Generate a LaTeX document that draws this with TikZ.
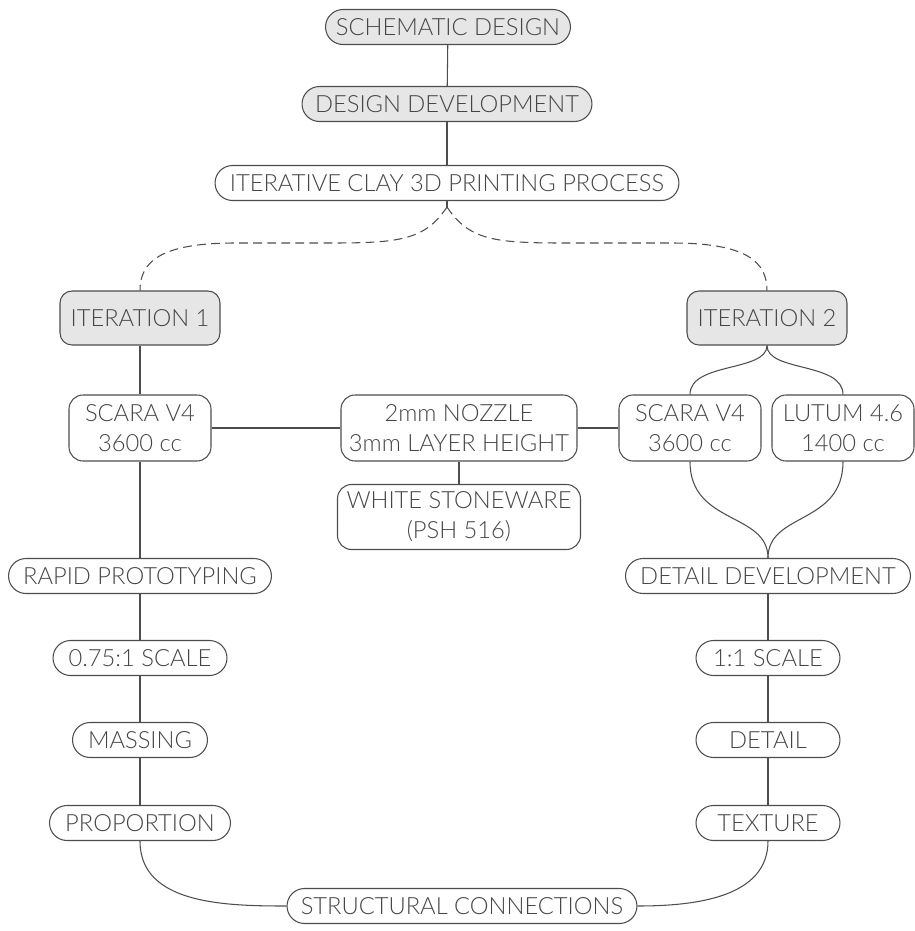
\documentclass[tikz,border=0pt]{standalone}
\usepackage{fontspec}
\setmainfont{Lato Light}
\usepackage{xcolor}
\definecolor{lineGray}{HTML}{4D4D4D}
\definecolor{textGray}{HTML}{454545}
\definecolor{fillGray}{HTML}{E6E6E6}
\tikzset{
  gray_pill/.style={rectangle, rounded corners=0.35cm, draw=lineGray, line width=0.6pt, fill=fillGray, text=textGray, minimum height=0.7cm, inner sep=0pt, font=\fontsize{13.5}{17}\selectfont},
  white_pill/.style={gray_pill, fill=white},
  gray_box/.style={gray_pill, rounded corners=0.24cm, minimum height=1.08cm},
  white_box/.style={gray_pill, fill=white, rounded corners=0.28cm, minimum height=1.32cm, align=center},
  edge/.style={draw=lineGray, line width=0.6pt},
  dashed_edge/.style={edge, dash pattern=on 5pt off 3pt}
}
\begin{document}
\begin{tikzpicture}[x=0.02cm, y=-0.02cm]
        \useasboundingbox (0, 0) rectangle (915, 931);
        \node[gray_pill, minimum width=4.9cm] (1) at (448, 27) {SCHEMATIC DESIGN};
        \node[gray_pill, minimum width=5.8cm] (2) at (447, 104) {DESIGN DEVELOPMENT};
        \node[white_pill, minimum width=9.28cm] (3) at (447, 183) {ITERATIVE CLAY 3D PRINTING PROCESS};
        \coordinate (20) at (447, 207);
        \node[gray_box, minimum width=3.2cm] (4) at (140, 318) {ITERATION 1};
        \node[gray_box, minimum width=3.2cm] (5) at (767, 318) {ITERATION 2};
        \node[white_box, minimum width=2.84cm] (6) at (140, 428) {SCARA V4\\3600 cc};
        \node[white_box, minimum width=4.72cm] (7) at (459, 428) {2mm NOZZLE\\3mm LAYER HEIGHT};
        \node[white_box, minimum width=4.86cm, minimum height=1.3cm] (8) at (459, 517) {WHITE STONEWARE\\(PSH 516)};
        \node[white_box, minimum width=2.84cm] (9) at (690, 428) {SCARA V4\\3600 cc};
        \node[white_box, minimum width=2.84cm] (10) at (843, 428) {LUTUM 4.6\\1400 cc};
        \node[white_pill, minimum width=5.7cm] (11) at (768, 576) {DETAIL DEVELOPMENT};
        \node[white_pill, minimum width=5.26cm] (12) at (140, 576) {RAPID PROTOTYPING};
        \node[white_pill, minimum width=3.48cm] (13) at (140, 658) {0.75:1 SCALE};
        \node[white_pill, minimum width=2.7cm] (14) at (140, 740) {MASSING};
        \node[white_pill, minimum width=3.62cm] (15) at (140, 823) {PROPORTION};
        \node[white_pill, minimum width=2.88cm] (16) at (768, 658) {1:1 SCALE};
        \node[white_pill, minimum width=2.88cm] (17) at (768, 740) {DETAIL};
        \node[white_pill, minimum width=2.88cm] (18) at (768, 823) {TEXTURE};
        \node[white_pill, minimum width=7cm] (19) at (462, 906) {STRUCTURAL CONNECTIONS};
        \draw[edge] (1) -- (2);
        \draw[edge] (2) -- (3);
        \draw[edge] (3) -- (20);
        \draw[dashed_edge] (20) .. controls (425, 240) and (400, 243) .. (330, 243) -- (235, 243) .. controls (160, 243) and (140, 262) .. (4.north);
        \draw[dashed_edge] (20) .. controls (469, 240) and (494, 243) .. (564, 243) -- (672, 243) .. controls (747, 243) and (767, 262) .. (5.north);
        \draw[edge] (4) -- (6);
        \draw[edge] (6) -- (7);
        \draw[edge] (7) -- (9);
        \draw[edge] (7) -- (8);
        \draw[edge] (5.south) .. controls (767, 372) and (690, 362) .. (9.north);
        \draw[edge] (5.south) .. controls (767, 372) and (843, 362) .. (10.north);
        \draw[edge] (9.south) .. controls (690, 525) and (768, 512) .. (11.north);
        \draw[edge] (10.south) .. controls (843, 525) and (768, 512) .. (11.north);
        \draw[edge] (6) -- (12);
        \draw[edge] (12) -- (13);
        \draw[edge] (13) -- (14);
        \draw[edge] (14) -- (15);
        \draw[edge] (11) -- (16);
        \draw[edge] (16) -- (17);
        \draw[edge] (17) -- (18);
        \draw[edge] (15.south) to[out=-90, in=180] (19.west);
        \draw[edge] (18.south) to[out=-90, in=0] (19.east);
    \end{tikzpicture}
\end{document}
